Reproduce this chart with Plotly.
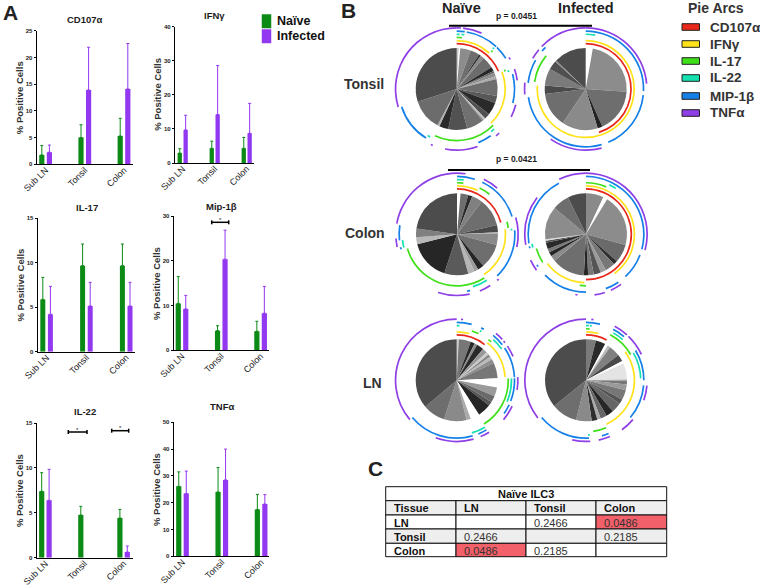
import plotly.graph_objects as go

W, H = 760, 586
FONT = "Liberation Sans"
NAIVE, INFECTED = "#0c8a16", "#9238f0"
DARK = "#1c1c1c"

# ---------- Panel A data ----------
tissues = ["Sub LN", "Tonsil", "Colon"]
cd107_naive = [1.75, 5.0, 5.3];      cd107_naive_top = [3.5, 7.4, 8.6]
cd107_inf = [2.25, 13.9, 14.1];      cd107_inf_top = [3.6, 21.9, 22.6]
ifng_naive = [2.9, 4.3, 4.3];        ifng_naive_top = [4.2, 6.4, 7.5]
ifng_inf = [9.7, 14.2, 8.7];         ifng_inf_top = [14.0, 28.6, 17.5]
il17_naive = [5.87, 9.65, 9.65];     il17_naive_top = [8.34, 12.08, 12.08]
il17_inf = [4.2, 5.13, 5.13];        il17_inf_top = [7.33, 7.78, 7.78]
mip_naive = [10.5, 4.4, 4.25];       mip_naive_top = [16.5, 5.5, 6.5]
mip_inf = [9.25, 20.4, 8.3];         mip_inf_top = [12.3, 26.9, 14.3]
il22_naive = [7.39, 4.75, 4.42];     il22_naive_top = [9.47, 5.72, 5.38]
il22_inf = [6.39, None, 0.63];       il22_inf_top = [9.84, None, 1.3]
tnf_naive = [26.1, 24.0, 17.5];      tnf_naive_top = [31.5, 33.1, 23.1]
tnf_inf = [23.4, 28.5, 19.5];        tnf_inf_top = [31.8, 40.0, 23.0]

#  title, naive, top, infected, top, ymax, dtick, axis x0,x1, y top,bottom, first group px, spacing, bar, pitch, title xy
panels = [
    ("CD107α", cd107_naive, cd107_naive_top, cd107_inf, cd107_inf_top, 25, 5, 36.7, 133, 30.7, 164.3, 45.6, 39.2, 5.2, 7.6, 85, 19),
    ("IFNγ", ifng_naive, ifng_naive_top, ifng_inf, ifng_inf_top, 40, 10, 175, 254, 26.7, 163, 182.7, 32, 4.3, 5.9, 214, 16),
    ("IL-17", il17_naive, il17_naive_top, il17_inf, il17_inf_top, 15, 5, 37.7, 135, 218, 351.7, 46.6, 39.8, 5, 7.6, 87, 207),
    ("Mip-1β", mip_naive, mip_naive_top, mip_inf, mip_inf_top, 30, 10, 173.7, 269.3, 216.3, 350.3, 182, 39.3, 5.2, 7.5, 221, 206),
    ("IL-22", il22_naive, il22_naive_top, il22_inf, il22_inf_top, 15, 5, 36.7, 132.7, 423, 557.7, 45.4, 39.1, 5.2, 7.4, 85, 411),
    ("TNFα", tnf_naive, tnf_naive_top, tnf_inf, tnf_inf_top, 50, 10, 173.7, 269.3, 422.3, 556.3, 182.5, 39.3, 5.2, 7.5, 222, 406),
]
# significance brackets: x0, x1, y (px)
sig_brackets = [(211.7, 228.7, 222.3), (68.3, 87, 432), (111.7, 128.7, 430.7)]

# ---------- Panel B pies: sector sizes in degrees + greys ----------
tonsil_n_vals = [3, 2, 15, 13, 3, 5, 17, 6, 3, 5, 4, 24, 10, 18, 8, 3, 2, 24, 27, 13, 3, 44, 108]
tonsil_n_cols = ["#c8c8c8", "#ffffff", "#8c8c8c", "#6e6e6e", "#333333", "#8a8a8a", "#6c6c6c", "#262626", "#666666", "#8e8e8e", "#ababab", "#6e6e6e", "#585858", "#2a2a2a", "#505050", "#c0c0c0", "#888888", "#707070", "#525252", "#2a2a2a", "#b0b0b0", "#6c6c6c", "#4c4c4c"]
tonsil_i_vals = [10, 84, 62, 7, 51, 49, 12, 24, 13, 2, 46]
tonsil_i_cols = ["#ffffff", "#8c8c8c", "#6e6e6e", "#222222", "#8a8a8a", "#6e6e6e", "#4a4a4a", "#7a7a7a", "#505050", "#8a8a8a", "#4c4c4c"]
colon_n_vals = [5, 11, 6, 15, 40, 10, 2, 16, 35, 9, 6, 9, 34, 58, 10, 12, 82]
colon_n_cols = ["#ffffff", "#6e6e6e", "#2a2a2a", "#808080", "#6e6e6e", "#4a4a4a", "#b0b0b0", "#8a8a8a", "#6e6e6e", "#262626", "#9a9a9a", "#b5b5b5", "#5a5a5a", "#262626", "#b8b8b8", "#808080", "#4c4c4c"]
colon_i_vals = [25, 6, 74, 26, 6, 14, 8, 10, 8, 6, 47, 8, 6, 5, 9, 3, 2, 47, 24, 26]
colon_i_cols = ["#8a8a8a", "#ffffff", "#8c8c8c", "#6a6a6a", "#2e2e2e", "#777777", "#9a9a9a", "#555555", "#777777", "#262626", "#6e6e6e", "#8a8a8a", "#262626", "#777777", "#2a2a2a", "#555555", "#dddddd", "#8c8c8c", "#6e6e6e", "#4c4c4c"]
ln_n_vals = [3, 17, 6, 4, 10, 7, 4, 4, 4, 6, 22, 13, 13, 9, 6, 19, 13, 6, 32, 32, 130]
ln_n_cols = ["#cfcfcf", "#777777", "#2a2a2a", "#8a8a8a", "#2a2a2a", "#999999", "#cccccc", "#888888", "#bbbbbb", "#8e8e8e", "#777777", "#ffffff", "#9a9a9a", "#6a6a6a", "#555555", "#262626", "#ffffff", "#aaaaaa", "#8a8a8a", "#6e6e6e", "#4c4c4c"]
ln_i_vals = [14, 14, 4, 4, 16, 10, 4, 23, 2, 5, 8, 14, 7, 14, 11, 9, 5, 8, 22, 37, 129]
ln_i_cols = ["#7a7a7a", "#2a2a2a", "#ffffff", "#bbbbbb", "#808080", "#4a4a4a", "#ffffff", "#e4e4e4", "#aaaaaa", "#777777", "#9a9a9a", "#777777", "#555555", "#666666", "#262626", "#666666", "#aaaaaa", "#2e2e2e", "#8a8a8a", "#6e6e6e", "#4c4c4c"]

arc_names = ["CD107α", "IFNγ", "IL-17", "IL-22", "MIP-1β", "TNFα"]
arc_colors = ["#e8281a", "#ffe21a", "#3fe01a", "#14e0b0", "#1580e8", "#8f3fe6"]
arc_radii = [44.5, 47.6, 50.7, 53.9, 57.0, 60.3]

# arcs: one list of [start, end] (deg clockwise from top) per function, same order as arc_names
tonsil_n_arcs = [
    [[0, 67]],
    [[0, 42], [69, 135]],
    [[0, 6], [42, 44], [68, 70], [135, 205]],
    [[0, 3], [5, 8], [41, 43], [70, 72], [137, 141], [209, 212]],
    [[0, 8], [10, 43], [44, 58], [75, 104], [144, 158], [212, 252]],
    [[253, 360], [0, 4], [6, 24], [59, 61], [71, 82], [105, 117], [136, 140], [160, 191], [203, 205]],
]
tonsil_i_arcs = [
    [[0, 163]],
    [[0, 274]],
    [[278, 310]],
    [[0, 10]],
    [[0, 92], [96, 157], [164, 262], [276, 300], [311, 316]],
    [[314, 360], [0, 85], [265, 276], [300, 310], [165, 215]],
]
colon_n_arcs = [
    [[0, 75]],
    [[0, 25], [84, 146]],
    [[0, 7], [26, 39], [76, 83], [148, 254]],
    [[0, 7], [84, 86], [147, 163], [256, 264]],
    [[0, 18], [26, 72], [86, 136], [167, 170], [264, 279], [255, 257]],
    [[280, 360], [0, 8], [26, 41], [74, 102], [137, 139], [147, 158], [168, 198], [258, 266]],
]
colon_i_arcs = [
    [[0, 180]],
    [[0, 144], [182, 233]],
    [[0, 23], [180, 187], [237, 254]],
    [[25, 33], [256, 260]],
    [[0, 105], [111, 137], [146, 160], [180, 225], [236, 238], [256, 258], [261, 332]],
    [[334, 360], [0, 105], [260, 307], [234, 245], [145, 156], [162, 172], [188, 190]],
]
ln_n_arcs = [
    [[0, 38]],
    [[0, 15], [39, 86]],
    [[17, 25], [38, 42], [88, 148]],
    [[0, 3], [25, 27], [42, 55], [88, 113], [149, 164]],
    [[0, 15], [25, 28], [39, 52], [56, 87], [88, 111], [115, 125], [149, 158], [164, 230]],
    [[230, 360], [4, 6], [40, 48], [50, 52], [56, 67], [87, 99], [115, 130], [148, 157], [164, 200]],
]
ln_i_arcs = [
    [[0, 27]],
    [[0, 15], [54, 155]],
    [[0, 4], [28, 60], [157, 172]],
    [[0, 3], [4, 6], [30, 42], [60, 88], [176, 178]],
    [[0, 14], [28, 41], [59, 90], [95, 130], [157, 164], [177, 230]],
    [[232, 360], [5, 7], [28, 42], [44, 65], [95, 109], [130, 144], [157, 168], [176, 193]],
]
# values, colours, arcs, centre x, centre y
pies = [
    (tonsil_n_vals, tonsil_n_cols, tonsil_n_arcs, 456.7, 89),
    (tonsil_i_vals, tonsil_i_cols, tonsil_i_arcs, 585.7, 89),
    (colon_n_vals, colon_n_cols, colon_n_arcs, 457, 234.3),
    (colon_i_vals, colon_i_cols, colon_i_arcs, 586, 234.3),
    (ln_n_vals, ln_n_cols, ln_n_arcs, 456.7, 380.3),
    (ln_i_vals, ln_i_cols, ln_i_arcs, 586, 380.3),
]
PIE_R, POLAR_R = 41, 65

# ---------- Panel C table ----------
table_title = "Naïve ILC3"
table_head = ["Tissue", "LN", "Tonsil", "Colon"]
table_col0 = ["LN", "Tonsil", "Colon"]
table_col1 = ["", "0.2466", "0.0486"]
table_col2 = ["0.2466", "", "0.2185"]
table_col3 = ["0.0486", "0.2185", ""]
RED, GREYROW = "#f2606a", "#eeeeee"
table_x = [385.7, 456, 526, 596, 666.7]
table_y = [486.7, 500.7, 515, 529, 543.3, 556.7]


def xp(v):
    return v / W


def yp(v):
    return 1 - v / H


fig = go.Figure()
shapes, notes = [], []


def note(text, x, y, size, color=DARK, bold=True, anchor="center", angle=0):
    notes.append(dict(text=f"<b>{text}</b>" if bold else text, x=xp(x), y=yp(y), xref="paper", yref="paper",
                      showarrow=False, xanchor=anchor, yanchor="middle", textangle=angle,
                      font=dict(size=size, color=color, family=FONT)))


def line(x0, y0, x1, y1, w=1.5, color="black"):
    shapes.append(dict(type="line", xref="paper", yref="paper", x0=xp(x0), x1=xp(x1), y0=yp(y0), y1=yp(y1),
                       line=dict(color=color, width=w)))


def cell(x0, y0, x1, y1, fill):
    shapes.append(dict(type="rect", xref="paper", yref="paper", x0=xp(x0), x1=xp(x1), y0=yp(y0), y1=yp(y1),
                       fillcolor=fill, line=dict(color="#111111", width=1)))


layout_axes = {}
for i, (title, nv, nt, iv, it, ymax, dtick, ax0, ax1, ytop, ybot, c0, sp, bw, pitch, tx, ty) in enumerate(panels, 1):
    xname, yname = f"x{i}", f"y{i}"
    w = bw / sp
    half = pitch / sp / 2
    for vals, tops, col, off in ((nv, nt, NAIVE, -half - w / 2), (iv, it, INFECTED, half - w / 2)):
        errs = [(t - v) if v is not None else 0 for v, t in zip(vals, tops)]
        fig.add_trace(go.Bar(x=[0, 1, 2], y=vals, xaxis=xname, yaxis=yname, width=w, offset=off,
                             marker=dict(color=col, line=dict(width=0)), showlegend=False,
                             error_y=dict(type="data", symmetric=False, array=errs, arrayminus=[0, 0, 0],
                                          color=col, thickness=1, width=1.5)))
    layout_axes[f"xaxis{i}"] = dict(domain=[xp(ax0), xp(ax1)], range=[(ax0 - c0) / sp, (ax1 - c0) / sp],
                                    anchor=yname, tickvals=[0, 1, 2], ticktext=tissues, tickangle=-45,
                                    automargin=False, ticklabelstandoff=-4,
                                    tickfont=dict(size=9, family=FONT, color=DARK), showgrid=False, zeroline=False,
                                    showline=True, linecolor="black", linewidth=1.2, ticks="", ticklen=0)
    layout_axes[f"yaxis{i}"] = dict(domain=[yp(ybot), yp(ytop)], range=[0, ymax], anchor=xname, dtick=dtick,
                                    automargin=False, tickprefix="<b>", ticksuffix="</b>",
                                    tickfont=dict(size=6, family=FONT, color=DARK), showgrid=False, zeroline=False,
                                    showline=True, linecolor="black", linewidth=1.2, ticks="outside", ticklen=2,
                                    tickwidth=1, tickcolor="black")
    note("% Positive Cells", ax0 - 17, (ytop + ybot) / 2, 9.5, color="#333333", angle=-90)
    note(title, tx, ty, 9.5)

for x0, x1, y in sig_brackets:
    line(x0, y, x1, y)
    line(x0, y - 2, x0, y + 2)
    line(x1, y - 2, x1, y + 2)
    note("*", (x0 + x1) / 2, y - 2.5, 6, bold=False)

# pies and their arcs
for k, (vals, cols, arcs, cx, cy) in enumerate(pies, 1):
    fig.add_trace(go.Pie(values=vals, sort=False, direction="clockwise", rotation=0, textinfo="none",
                         hoverinfo="skip", showlegend=False, marker=dict(colors=cols, line=dict(width=0)),
                         domain=dict(x=[xp(cx - PIE_R), xp(cx + PIE_R)], y=[yp(cy + PIE_R), yp(cy - PIE_R)])))
    for ring, col, rad in zip(arcs, arc_colors, arc_radii):
        fig.add_trace(go.Barpolar(theta=[(a + b) / 2 for a, b in ring], width=[b - a for a, b in ring],
                                  r=[1.7] * len(ring), base=[rad] * len(ring), subplot=f"polar{k}",
                                  marker=dict(color=col, line=dict(width=0)), showlegend=False, hoverinfo="skip"))
    layout_axes[f"polar{k}"] = dict(domain=dict(x=[xp(cx - POLAR_R), xp(cx + POLAR_R)],
                                                y=[yp(cy + POLAR_R), yp(cy - POLAR_R)]),
                                    bgcolor="rgba(0,0,0,0)", barmode="overlay",
                                    radialaxis=dict(visible=False, range=[0, POLAR_R]),
                                    angularaxis=dict(visible=False, direction="clockwise", rotation=90))

# table: title row, head row, then body rows, cell by cell
cell(table_x[0], table_y[0], table_x[4], table_y[1], "white")
note(table_title, (table_x[0] + table_x[4]) / 2, (table_y[0] + table_y[1]) / 2 + 0.5, 11, color="#111111")
columns = [table_col0, table_col1, table_col2, table_col3]
fills = [["white", GREYROW, "white"],
         ["white", GREYROW, RED],
         ["white", GREYROW, "white"],
         [RED, GREYROW, "white"]]
for c in range(4):
    x0, x1 = table_x[c], table_x[c + 1]
    cell(x0, table_y[1], x1, table_y[2], GREYROW)
    note(table_head[c], x0 + 6, (table_y[1] + table_y[2]) / 2 + 0.5, 11, color="#111111", anchor="left")
    for r in range(3):
        y0, y1 = table_y[r + 2], table_y[r + 3]
        cell(x0, y0, x1, y1, fills[c][r])
        if columns[c][r]:
            note(columns[c][r], x0 + 6, (y0 + y1) / 2 + 0.5, 11, color="#111111" if c == 0 else "#333333",
                 bold=c == 0, anchor="left")

# panel letters and headings
note("A", 10, 13, 21, color="#222222")
note("B", 348, 10, 21, color="#222222")
note("C", 375, 468, 21, color="#222222")
note("Naïve", 461, 8, 14.5, color="#222222")
note("Infected", 586, 8, 14.5, color="#222222")
note("p = 0.0451", 516, 16, 8.5)
note("p = 0.0421", 516, 159, 8.5)
line(449, 25.7, 592, 25.7, 2)
line(448, 170, 590, 170, 2)
note("Tonsil", 364, 84, 14, color="#333333")
note("Colon", 365, 233, 14, color="#333333")
note("LN", 372, 383, 14, color="#333333")

# group key
for label, col, y0, y1 in (("Naïve", NAIVE, 14.5, 28), ("Infected", INFECTED, 29.5, 43)):
    shapes.append(dict(type="rect", xref="paper", yref="paper", x0=xp(262), x1=xp(271), y0=yp(y0), y1=yp(y1),
                       fillcolor=col, line=dict(width=0.5, color=col)))
    note(label, 275, (y0 + y1) / 2, 12.5, color="#111111", anchor="left")

# arc key
note("Pie Arcs", 716, 8, 14, color="#333333")
for name, col, y in zip(arc_names, arc_colors, [27, 44, 61, 78, 96, 113]):
    shapes.append(dict(type="rect", xref="paper", yref="paper", x0=xp(682), x1=xp(699.5), y0=yp(y - 3.3),
                       y1=yp(y + 3.3), fillcolor=col, line=dict(width=1, color="#222222")))
    note(name, 708, y, 13.5, color="#333333", anchor="left")

fig.update_layout(width=W, height=H, margin=dict(l=0, r=0, t=0, b=0, autoexpand=False), paper_bgcolor="white",
                  plot_bgcolor="white", template="none",
                  barmode="overlay", showlegend=False, shapes=shapes, annotations=notes,
                  font=dict(family=FONT), **layout_axes)
fig.write_html("out.html", config=dict(displayModeBar=False), post_script="document.body.style.margin='0';")
